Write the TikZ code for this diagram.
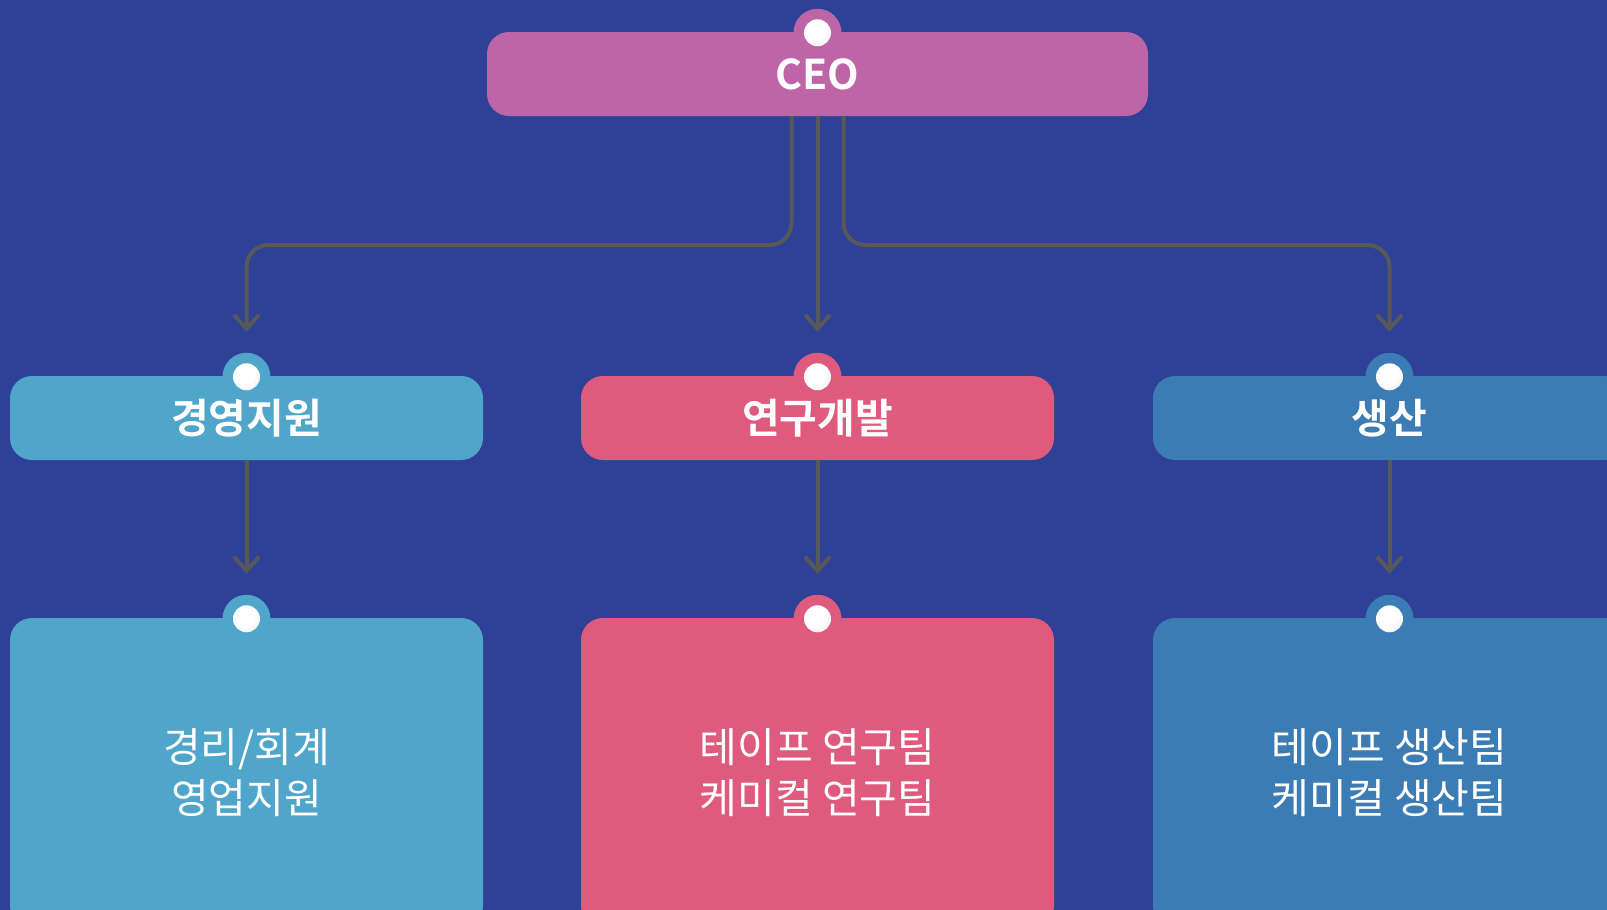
\documentclass[tikz,border=0pt]{standalone}
\usepackage{fontspec}
\setmainfont{Noto Sans CJK KR}[BoldFont={Noto Sans CJK KR Bold}]
\usetikzlibrary{arrows.meta,calc}
\definecolor{bg}{RGB}{46,65,151}
\definecolor{ceoc}{RGB}{190,101,168}
\definecolor{mgc}{RGB}{80,165,203}
\definecolor{rdc}{RGB}{222,91,125}
\definecolor{prc}{RGB}{60,124,180}
\definecolor{linegray}{RGB}{88,88,88}
\pgfdeclareradialshading{pinshade}{\pgfpoint{-10bp}{10bp}}{%
  color(0bp)=(white); color(22bp)=(white); color(40bp)=(black!10); color(55bp)=(black!28); color(70bp)=(black!35)}
\begin{document}
\begin{tikzpicture}[x=1pt,y=-1pt,
  box/.style={rounded corners=22pt, minimum width=473pt, inner sep=0pt, text=white, align=center,
    font=\fontsize{41pt}{51pt}\selectfont},
  headbox/.style={box, minimum height=84pt, font=\fontsize{41pt}{51pt}\selectfont\bfseries},
  subbox/.style={box, minimum height=310pt},
  conn/.style={draw=linegray, line width=4pt, -{Straight Barb[length=14pt,width=25pt]}, shorten >=44pt},
  pinbase/.style={circle, minimum size=48pt, inner sep=0pt},
  pinball/.style={circle, minimum size=27pt, inner sep=0pt, shading=pinshade}]
\fill[bg] (0,0) rectangle (1607,910);
\useasboundingbox (0,0) rectangle (1607,910);
\clip (0,0) rectangle (1607,910);

% boxes
\node[headbox, fill=ceoc, minimum width=661pt] (ceo) at (817.5,74) {CEO};
\node[headbox, fill=mgc] (mg) at (246.5,418) {경영지원};
\node[headbox, fill=rdc] (rd) at (817.5,418) {연구개발};
\node[headbox, fill=prc] (pr) at (1389.5,418) {생산};
\node[subbox, fill=mgc] (mg2) at (246.5,773) {경리/회계\\영업지원};
\node[subbox, fill=rdc] (rd2) at (817.5,773) {테이프 연구팀\\케미컬 연구팀};
\node[subbox, fill=prc] (pr2) at (1389.5,773) {테이프 생산팀\\케미컬 생산팀};

% pins
\foreach \n/\c in {ceo/ceoc, mg/mgc, rd/rdc, pr/prc, mg2/mgc, rd2/rdc, pr2/prc}{
  \node[pinbase, fill=\c] (\n tab) at ([yshift=-1pt]\n.north) {};
  \node[pinball] (\n ball) at (\n tab.center) {};
}

% connectors
\coordinate (ceoL) at ([xshift=-26pt]ceo.south);
\coordinate (ceoR) at ([xshift=26pt]ceo.south);
\coordinate (bus) at (817.5,245);
\draw[conn, rounded corners=22pt] (ceoL) -- (ceoL |- bus) -| (mg.north);
\draw[conn, rounded corners=22pt] (ceoR) -- (ceoR |- bus) -| (pr.north);
\draw[conn] (ceo.south) -- (rd.north);
\draw[conn] (mg.south) -- (mg2.north);
\draw[conn] (rd.south) -- (rd2.north);
\draw[conn] (pr.south) -- (pr2.north);
\end{tikzpicture}
\end{document}
